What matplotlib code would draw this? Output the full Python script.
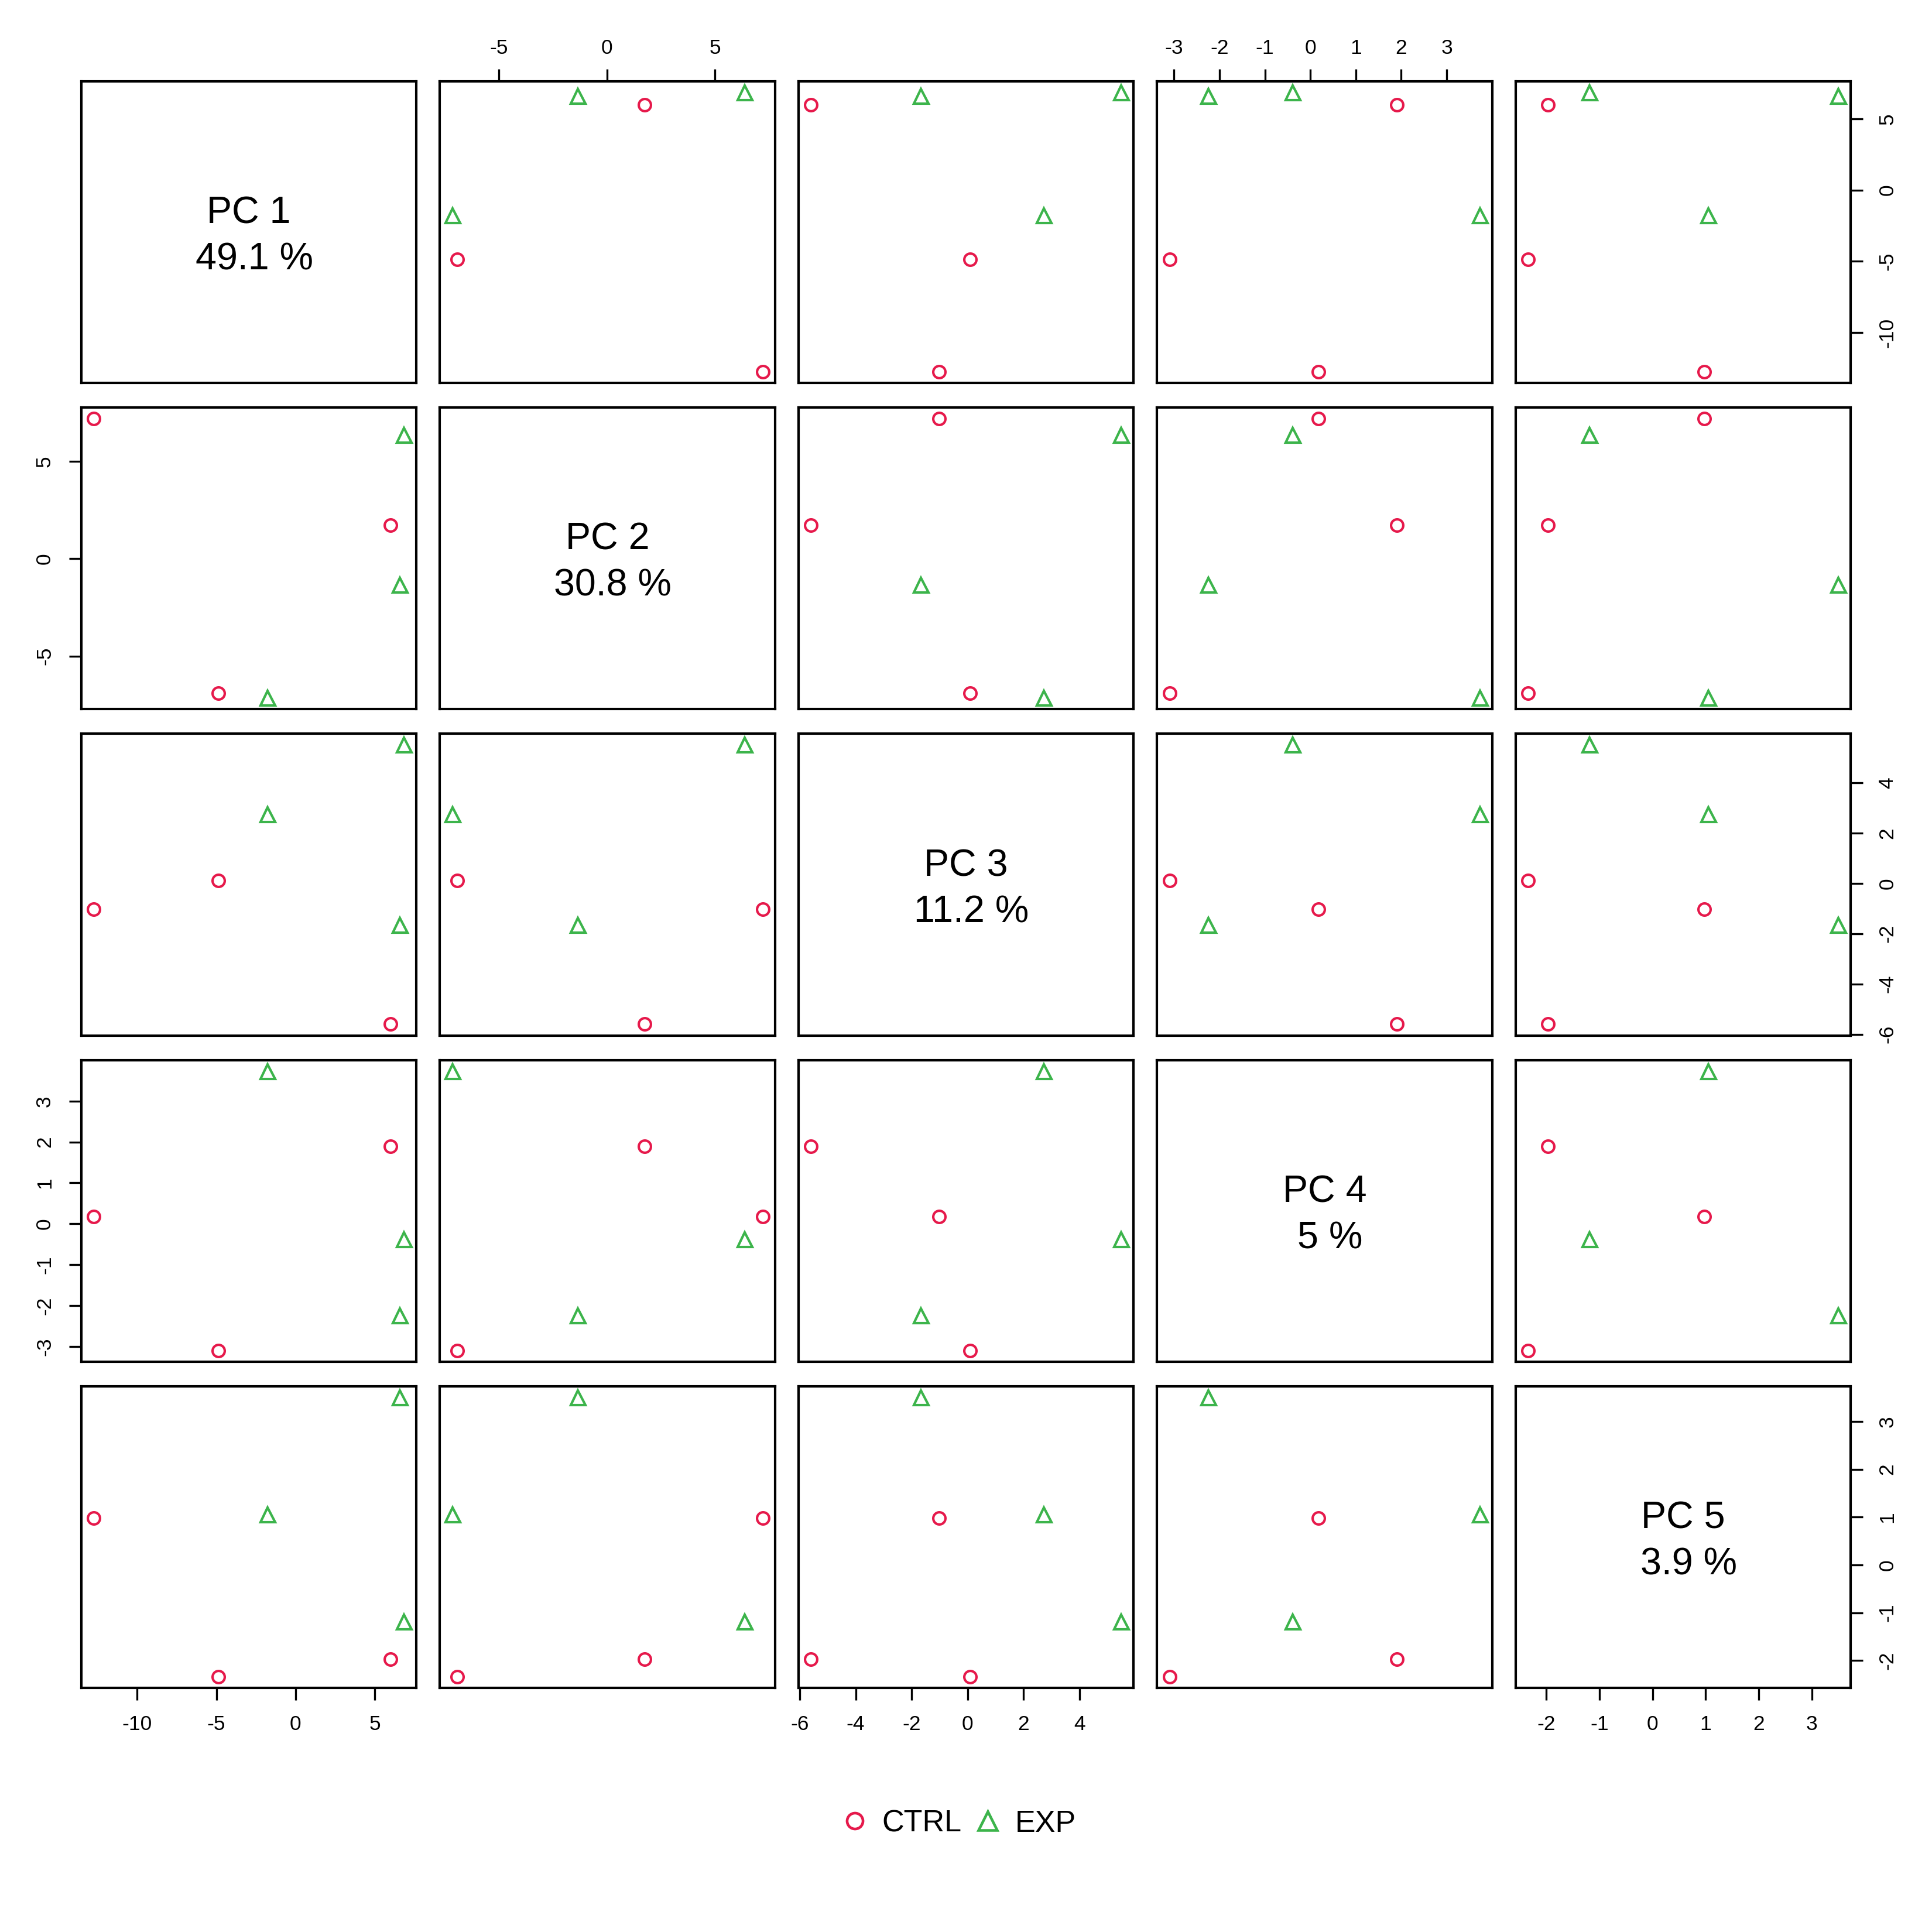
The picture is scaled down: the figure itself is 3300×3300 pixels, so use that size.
import matplotlib
matplotlib.use("Agg")
import matplotlib.pyplot as plt
from matplotlib.lines import Line2D

plt.rcParams['font.family'] = ['Liberation Sans', 'DejaVu Sans']
plt.rcParams['axes.unicode_minus'] = False

# PCA scores, one entry per sample
group = ["CTRL", "CTRL", "CTRL", "EXP", "EXP", "EXP"]
pc1 = [-12.75, -4.88, 6.0, -1.78, 6.6, 6.86]
pc2 = [7.2, -6.92, 1.74, -7.15, -1.35, 6.37]
pc3 = [-1.02, 0.1, -5.6, 2.73, -1.66, 5.5]
pc4 = [0.18, -3.1, 1.9, 3.73, -2.24, -0.39]
pc5 = [0.975, -2.34, -1.97, 1.05, 3.5, -1.185]

pc_names = ["PC 1", "PC 2", "PC 3", "PC 4", "PC 5"]
pct_var = ["49.1", "30.8", "11.2", "5", "3.9"]

ticks = [
    [-10, -5, 0, 5],
    [-5, 0, 5],
    [-6, -4, -2, 0, 2, 4],
    [-3, -2, -1, 0, 1, 2, 3],
    [-2, -1, 0, 1, 2, 3],
]

group_colors = {"CTRL": "#e6194b", "EXP": "#3cb44b"}
group_markers = {"CTRL": "o", "EXP": "^"}
group_ms = {"CTRL": 5.0, "EXP": 6.0}

scores = [pc1, pc2, pc3, pc4, pc5]
n = len(scores)


def limits(v):
    lo, hi = min(v), max(v)
    pad = 0.04 * (hi - lo)
    return lo - pad, hi + pad


fig, axes = plt.subplots(n, n, figsize=(11, 11), dpi=300)
fig.subplots_adjust(left=0.0421, right=0.958, top=0.958, bottom=0.1263,
                    wspace=0.0699, hspace=0.0816)

for i in range(n):
    for j in range(n):
        ax = axes[i, j]
        for s in ax.spines.values():
            s.set_linewidth(1.0)
        ax.set_xlim(limits(scores[j]))
        ax.set_ylim(limits(scores[i]))
        ax.set_xticks(ticks[j])
        ax.set_yticks(ticks[i])
        ax.tick_params(direction='out', length=5, width=0.8, pad=6,
                       labelsize=8.5,
                       bottom=False, top=False, left=False, right=False,
                       labelbottom=False, labeltop=False,
                       labelleft=False, labelright=False)
        ax.tick_params(axis='y', labelrotation=90)
        # R pairs() style alternating axes
        if i == n - 1 and j % 2 == 0:
            ax.tick_params(bottom=True, labelbottom=True)
        if i == 0 and j % 2 == 1:
            ax.tick_params(top=True, labeltop=True, pad=4.5)
        if j == 0 and i % 2 == 1:
            ax.tick_params(left=True, labelleft=True)
        if j == n - 1 and i % 2 == 0:
            ax.tick_params(right=True, labelright=True)
        for lab in ax.get_yticklabels():
            lab.set_va('center')

        if i == j:
            ax.text(0.5, 0.485, pc_names[i] + "\n " + pct_var[i] + " %",
                    transform=ax.transAxes, ha='center', va='center',
                    multialignment='center', fontsize=15.5, linespacing=1.4)
            continue

        for k in range(len(group)):
            g = group[k]
            ax.plot(scores[j][k], scores[i][k], linestyle='none',
                    marker=group_markers[g], markersize=group_ms[g],
                    markerfacecolor='none', markeredgecolor=group_colors[g],
                    markeredgewidth=1.0)

handles = [Line2D([], [], linestyle='none', marker=group_markers[g],
                  markersize=group_ms[g] * 1.3, markerfacecolor='none',
                  markeredgecolor=group_colors[g], markeredgewidth=1.1)
           for g in ["CTRL", "EXP"]]
fig.legend(handles, ["CTRL", "EXP"], loc='center', bbox_to_anchor=(0.495, 0.056),
           ncol=2, frameon=False, fontsize=12.5, handletextpad=0.3,
           columnspacing=0.25, handlelength=1.2)

fig.savefig("out.png", dpi=300)
